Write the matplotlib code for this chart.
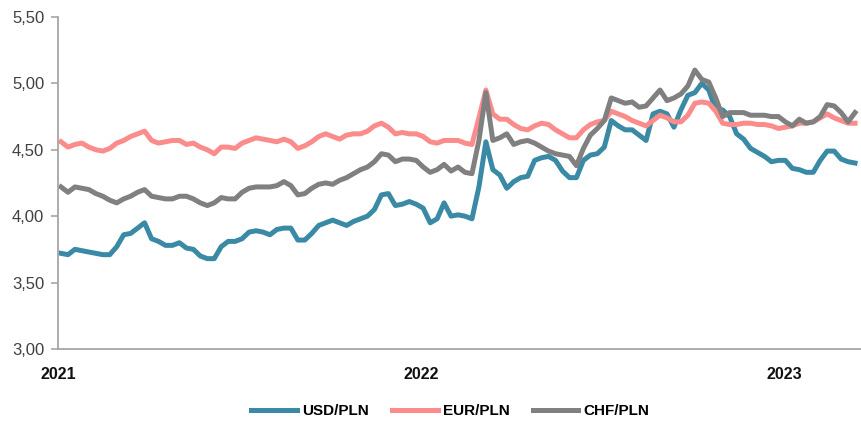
import numpy as np
import pandas as pd
import matplotlib
matplotlib.use("Agg")
import matplotlib.pyplot as plt
from matplotlib.ticker import FuncFormatter

plt.rcParams['font.family'] = ['Liberation Sans', 'DejaVu Sans']

# weekly observations, starting Monday 2021-01-04
dates = pd.date_range('2021-01-04', periods=115, freq='7D')

usd_pln = [
    3.72, 3.71, 3.75, 3.74, 3.73, 3.72, 3.71, 3.71, 3.77, 3.86, 3.87, 3.91, 3.95, 3.83, 3.81, 3.78, 3.78, 3.80, 3.76,
    3.75, 3.70, 3.68, 3.68, 3.77, 3.81, 3.81, 3.83, 3.88, 3.89, 3.88, 3.86, 3.90, 3.91, 3.91, 3.82, 3.82, 3.87, 3.93,
    3.95, 3.97, 3.95, 3.93, 3.96, 3.98, 4.00, 4.05, 4.16, 4.17, 4.08, 4.09, 4.11, 4.09, 4.06, 3.95, 3.98, 4.10, 4.00,
    4.01, 4.00, 3.98, 4.22, 4.56, 4.35, 4.31, 4.21, 4.26, 4.29, 4.30, 4.42, 4.44, 4.45, 4.42, 4.34, 4.29, 4.29, 4.42,
    4.46, 4.47, 4.52, 4.72, 4.68, 4.65, 4.65, 4.61, 4.57, 4.77, 4.79, 4.77, 4.67, 4.80, 4.91, 4.93, 5.00, 4.95, 4.80, 4.80,
    4.75, 4.62, 4.58, 4.51, 4.48, 4.45, 4.41, 4.42, 4.42, 4.36, 4.35, 4.33, 4.33, 4.42, 4.49, 4.49, 4.43, 4.41, 4.40,
]

eur_pln = [
    4.56, 4.52, 4.54, 4.55, 4.52, 4.50, 4.49, 4.51, 4.55, 4.57, 4.60, 4.62, 4.64, 4.57, 4.55, 4.56, 4.57, 4.57, 4.54,
    4.55, 4.52, 4.50, 4.47, 4.52, 4.52, 4.51, 4.55, 4.57, 4.59, 4.58, 4.57, 4.56, 4.58, 4.56, 4.51, 4.53, 4.56, 4.60,
    4.62, 4.60, 4.58, 4.61, 4.62, 4.62, 4.64, 4.68, 4.70, 4.67, 4.62, 4.63, 4.62, 4.62, 4.60, 4.56, 4.55, 4.57, 4.57,
    4.57, 4.55, 4.54, 4.74, 4.95, 4.77, 4.73, 4.73, 4.69, 4.66, 4.65, 4.68, 4.70, 4.69, 4.65, 4.62, 4.59, 4.59, 4.65,
    4.69, 4.71, 4.72, 4.79, 4.77, 4.75, 4.72, 4.70, 4.68, 4.72, 4.76, 4.74, 4.71, 4.71, 4.76, 4.85, 4.86, 4.85, 4.79, 4.70,
    4.69, 4.69, 4.70, 4.70, 4.69, 4.69, 4.68, 4.66, 4.67, 4.68, 4.70, 4.70, 4.71, 4.74, 4.77, 4.74, 4.72, 4.70, 4.70,
]

chf_pln = [
    4.22, 4.18, 4.22, 4.21, 4.20, 4.17, 4.15, 4.12, 4.10, 4.13, 4.15, 4.18, 4.20, 4.15, 4.14, 4.13, 4.13, 4.15, 4.15,
    4.13, 4.10, 4.08, 4.10, 4.14, 4.13, 4.13, 4.18, 4.21, 4.22, 4.22, 4.22, 4.23, 4.26, 4.23, 4.16, 4.17, 4.21, 4.24,
    4.25, 4.24, 4.27, 4.29, 4.32, 4.35, 4.37, 4.41, 4.47, 4.46, 4.41, 4.43, 4.43, 4.42, 4.37, 4.33, 4.35, 4.39, 4.34,
    4.37, 4.33, 4.32, 4.57, 4.93, 4.57, 4.59, 4.62, 4.54, 4.56, 4.57, 4.55, 4.52, 4.49, 4.47, 4.46, 4.45, 4.38, 4.51,
    4.61, 4.66, 4.72, 4.89, 4.87, 4.85, 4.86, 4.82, 4.83, 4.89, 4.95, 4.87, 4.89, 4.92, 4.98, 5.10, 5.03, 5.01, 4.89, 4.75,
    4.78, 4.78, 4.78, 4.76, 4.76, 4.76, 4.75, 4.75, 4.71, 4.68, 4.73, 4.70, 4.71, 4.75, 4.84, 4.83, 4.78, 4.71, 4.78,
]

year_ticks = ['2021-01-01', '2022-01-01', '2023-01-01']
year_labels = ['2021', '2022', '2023']

fig = plt.figure(figsize=(8.61, 4.24), dpi=100)
ax = fig.add_axes([0.0674, 0.177, 0.9326, 0.783])

ax.plot(dates, usd_pln, color='#3a8aa5', lw=3.6, label='USD/PLN')
ax.plot(dates, eur_pln, color='#fb8c8c', lw=3.6, label='EUR/PLN')
ax.plot(dates, chf_pln, color='#808080', lw=3.6, label='CHF/PLN')

ax.set_ylim(3.0, 5.5)
ax.set_yticks(np.arange(3.0, 5.51, 0.5))
ax.yaxis.set_major_formatter(FuncFormatter(lambda v, p: f'{v:.2f}'.replace('.', ',')))
ax.set_xlim(pd.Timestamp('2021-01-01'), pd.Timestamp('2023-03-19'))
ax.set_xticks(pd.to_datetime(year_ticks))
ax.set_xticklabels(year_labels, fontweight='bold', fontsize=11.5, color='#111111')

for s in ['top', 'right']:
    ax.spines[s].set_visible(False)
for s in ['left', 'bottom']:
    ax.spines[s].set_color('#a6a6a6')
    ax.spines[s].set_linewidth(1.3)

ax.tick_params(axis='y', length=5, width=1.2, color='#a6a6a6', pad=5,
               labelsize=12, labelcolor='#404040')
ax.tick_params(axis='x', length=0, pad=13)

ax.legend(loc='center', bbox_to_anchor=(0.523, 0.031), bbox_transform=fig.transFigure,
          ncol=3, frameon=False, handlelength=3.0, handletextpad=0.35,
          columnspacing=1.5, prop={'weight': 'bold', 'size': 11})

fig.savefig('out.png', dpi=100)
